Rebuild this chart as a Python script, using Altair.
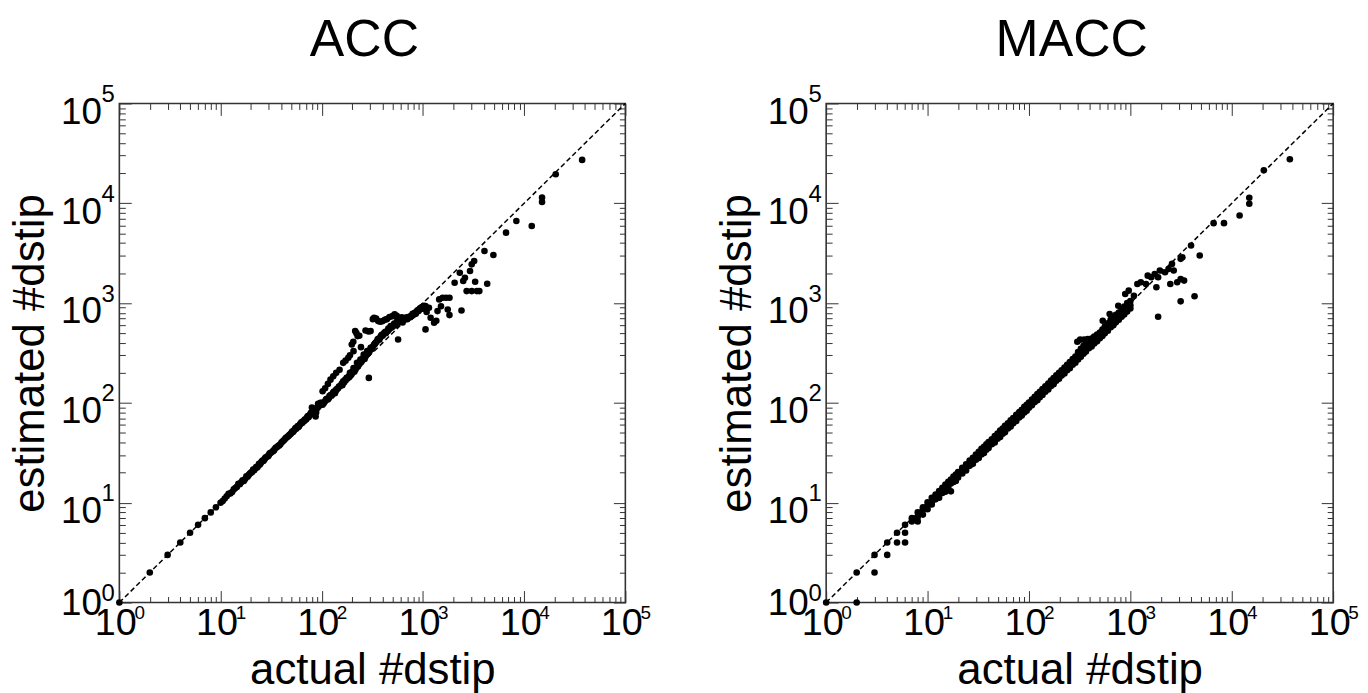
import altair as alt
import pandas as pd

FONT = "Liberation Sans"
decades = [1, 10, 100, 1000, 10000, 100000]
tick_base = "10"
tick_exponents = ["0", "1", "2", "3", "4", "5"]
minor_ticks = [m * d for d in [1, 10, 100, 1000, 10000] for m in range(2, 10)]
panel_titles = ["ACC", "MACC"]
x_title = "actual #dstip"
y_title = "estimated #dstip"

# ---------------- ACC (actual, estimated) ----------------
acc_low = [(1, 1), (2, 2), (3, 3), (4, 4), (5, 5), (6, 6), (7, 7), (8, 8), (9, 9), (10, 10)]
acc_mid = [(10.5, 10.4), (11, 11), (11.5, 11.6), (12, 12.3), (12.5, 12.4), (13, 12.8), (13.5, 13.6),
           (14, 14), (14.5, 14.4), (15, 15.5), (15.5, 15.3), (16, 16), (16.5, 16.8), (17, 16.5),
           (17.5, 17.3), (18, 18.4), (18.5, 18.2), (19, 19), (19.5, 19.6), (20, 20), (20.5, 20.3),
           (21, 21.5), (21.5, 21.2), (22, 22), (22.5, 22.8), (23, 22.5), (23.5, 23.3), (24, 24.5),
           (24.5, 24.2), (25, 25), (25.5, 25.8), (26, 26.5), (26.5, 26.2), (27, 27), (27.5, 27.8),
           (28, 28.5), (29, 29), (29.5, 29.2), (30, 30), (30.5, 31), (31, 31.5), (32, 32), (33, 33),
           (33.5, 33.2), (34, 34), (35, 35.5), (36, 36), (37, 37), (38, 37.5), (39, 38.5), (40, 40),
           (41, 41), (42, 42), (43, 43), (44, 44.5), (45, 45), (46, 46), (47, 46.5), (48, 48),
           (49, 48.5), (50, 50), (51, 51.5), (52, 51), (53, 52.5), (54, 54), (55, 56), (56, 55),
           (57, 57), (58, 58.5), (59, 57.5), (60, 59), (61, 61), (62, 62), (63, 64), (64, 63),
           (65, 65), (66, 65), (67, 66), (68, 68), (69, 68), (70, 68), (71, 70), (72, 72), (73, 74),
           (74, 72), (75, 74), (76, 75), (77, 77), (78, 79), (79, 80), (80, 78), (80, 90), (81, 80),
           (82, 82), (83, 83), (84, 82), (85, 84), (86, 86), (87, 73), (87, 86), (88, 80), (89, 88),
           (90, 89), (91, 90), (92, 93), (92, 98), (93, 92), (94, 95), (95, 94), (96, 97), (97, 100),
           (98, 96), (99, 98), (100, 100)]
acc_main = [(102, 96), (105, 100), (108, 104), (110, 108), (112, 110), (115, 108), (118, 112),
            (119, 117), (122, 120), (125, 118), (128, 122), (129, 126), (132, 130), (135, 125),
            (138, 132), (139, 136), (142, 138), (145, 140), (148, 146), (151, 147), (155, 150),
            (158, 156), (160, 150), (163, 165), (166, 160), (170, 170), (172, 168), (176, 178),
            (180, 176), (185, 185), (188, 182), (190, 200), (195, 190), (198, 196), (200, 205),
            (206, 224), (210, 205), (215, 215), (220, 225), (223, 252), (228, 232), (230, 240),
            (236, 245), (241, 272), (245, 255), (250, 265), (255, 280), (260, 305), (265, 275),
            (270, 290), (275, 300), (281, 330), (285, 310), (290, 320), (298, 335), (304, 356),
            (310, 345), (315, 360), (322, 370), (329, 385), (335, 390), (340, 400), (348, 410),
            (356, 432), (362, 440), (370, 430), (378, 450), (384, 467), (392, 480), (400, 470),
            (408, 490), (415, 504), (425, 515), (430, 500), (440, 520), (449, 524), (455, 555),
            (460, 540), (470, 560), (480, 590), (486, 566), (500, 580), (510, 600), (520, 625),
            (525, 611), (540, 600), (550, 640), (560, 660), (568, 635), (580, 650), (590, 670),
            (600, 690), (614, 660), (620, 700), (630, 640), (640, 680), (650, 700), (664, 686),
            (680, 700), (690, 720), (700, 690), (718, 713), (730, 730), (750, 720), (760, 740),
            (776, 741), (790, 780), (800, 760), (820, 790), (838, 800), (850, 780), (860, 820),
            (880, 840), (900, 850), (906, 831), (930, 880), (950, 870), (960, 900), (980, 898),
            (990, 920), (1000, 880), (1020, 940), (1060, 933), (1146, 898)]
acc_upper = [(102, 131), (108, 140), (115, 155), (122, 171), (130, 185), (139, 200), (150, 215),
             (163, 252), (172, 265), (183, 283), (190, 300), (198, 385), (205, 410), (206, 330),
             (214, 524), (220, 500), (226, 467), (235, 470), (244, 362), (271, 532), (290, 520),
             (304, 524), (320, 690), (329, 713), (345, 700), (361, 660), (380, 650), (400, 660),
             (420, 680), (440, 690), (467, 724), (500, 740), (525, 770), (550, 745), (560, 710),
             (590, 713), (620, 720), (660, 700)]
acc_high = [(292, 178), (568, 432), (1060, 545), (1087, 815), (1191, 713), (1288, 635), (1355, 665),
            (1393, 831), (1448, 1089), (1508, 930), (1565, 1132), (1692, 1132), (1758, 864),
            (1829, 1132), (1829, 758), (2056, 1600), (2312, 2014), (2404, 844), (2500, 1663),
            (2600, 1795), (2702, 1319), (2918, 2094), (3034, 2444), (3034, 1319), (3206, 2638),
            (3281, 1637), (3414, 1319), (3606, 1319), (4055, 3325), (4315, 1563), (4966, 3034),
            (6624, 5077), (8375, 6650), (11890, 5929), (15030, 11400), (15030, 10310),
            (20510, 19540), (37410, 27210)]

# ---------------- MACC (actual, estimated) ----------------
macc_low = [(1, 1), (2, 1), (2, 2), (3, 2), (3, 3), (4, 3), (4, 4), (5, 4), (5, 5), (6, 4), (6, 5),
            (6, 6), (7, 6.5), (7, 7), (8, 6.5), (8, 7.2), (8, 8), (9, 7.6), (9, 8.6), (9, 9)]
macc_band = [
    (10, [8.6, 9.3, 10.1]), (11, [9.6, 10.3, 11.2]), (12, [10.8, 11.6, 12.1]), (13, [11.2, 12.4, 13.1]),
    (14, [12.5, 13.3, 14.1]), (15, [12.9, 14.2, 15.2]), (16, [14.3, 15.1, 16.2]),
    (17, [13, 15.6, 16.4, 17.1]), (18, [16.1, 17.2, 18.3]), (19, [16.5, 18.1, 19.1]),
    (20, [17.9, 19, 20.3]), (22, [19.6, 21, 22.4]), (24, [21, 23, 24.2]), (26, [23.4, 24.8, 26.5]),
    (28, [24.5, 26.9, 28.2]), (30, [26.9, 28.4, 30.4]), (32, [28, 30.5, 32.3]),
    (34, [30.4, 32.5, 34.6]), (36, [31.5, 34.2, 36.3]), (38, [34, 36.1, 38.5]),
    (40, [35.4, 38.2, 40.6]), (43, [38.5, 40.8, 43.3]), (46, [40.2, 43.8, 46.6]),
    (49, [43.8, 46.5, 49.4]), (52, [45.5, 49.5, 52.8]), (55, [49.1, 52.3, 55.4]),
    (58, [50.8, 55.2, 58.9]), (62, [55.3, 59, 62.5]), (66, [57.9, 62.6, 66.9]),
    (70, [62.4, 66.5, 70.6]), (75, [65.8, 71.2, 76]), (80, [71.5, 75.8, 80.9]),
    (85, [74.6, 80.7, 85.5]), (90, [80.3, 85.2, 91.2]), (95, [83.5, 90.4, 95.7]),
    (100, [89.2, 94.8, 101]), (107, [94.5, 101.5, 108.2]), (114, [101.8, 108.2, 115.1]),
    (121, [106.3, 114.9, 122.4]), (128, [114.2, 121.3, 129.5]), (136, [119.8, 129.1, 137.6]),
    (145, [129.5, 137.3, 146.8]), (155, [136.2, 147.1, 156.4]), (165, [147.3, 156.2, 167.5]),
    (175, [154.1, 166.3, 177.2]), (186, [166.2, 176.4, 188.6]), (198, [174.5, 188.2, 200.3]),
    (210, [187.6, 199.1, 212.5]), (224, [197.2, 212.8, 226.4]), (238, [212.4, 225.9, 241.1]),
    (253, [222.8, 240.3, 256.7]), (270, [241.3, 256.2, 274.5]), (287, [252.6, 272.8, 291.4]),
    (300, [410]), (305, [272.1, 291.3, 322.6]), (320, [430]), (325, [289.4, 312.5, 348.2]),
    (345, [311.2, 334.8, 372.6]), (350, [432]), (365, [326.5, 358.1, 401.3]), (380, [435]),
    (390, [352.3, 381.6, 418.5]), (415, [368.2, 402.4, 441.7]), (420, [440]),
    (440, [392.6, 423.1, 462.3]), (460, [445]), (470, [413.5, 447.8, 483.9]), (490, [450]),
    (500, [445.2, 471.6, 507.4]), (530, [468.7, 503.3, 542.1]), (534, [666]),
    (560, [497.4, 528.6, 583.2]), (600, [528.1, 572.4, 628.7]), (625, [776]),
    (640, [571.9, 612.5, 683.4]), (680, [598.3, 651.7, 724.6]), (720, [641.5, 692.8, 762.3]),
    (760, [942]), (770, [679.2, 731.4, 803.5]), (820, [728.6, 782.3, 862.4]),
    (870, [768.4, 832.5, 921.7]), (890, [1233]), (930, [821.3, 893.6, 1003]), (963, [1333]),
    (1000, [882.5, 952.4, 1048]),
]
macc_high = [(1084, 1186), (1172, 1554), (1268, 1616), (1426, 1554), (1484, 1884), (1607, 1814),
             (1738, 1959), (1806, 1439), (1879, 1814), (1879, 730), (1954, 2117), (2199, 2037),
             (2380, 2198), (2476, 1554), (2574, 2470), (2677, 2117), (2897, 1616), (3133, 1745),
             (3133, 2774), (3133, 1041), (3259, 2880), (3388, 1680), (3968, 3773), (4295, 1169),
             (4833, 2994), (6622, 6324), (8380, 6324), (11950, 7550), (14890, 11370),
             (14890, 9890), (20720, 21380), (37400, 27600)]

acc_pairs = acc_low + acc_mid + acc_main + acc_upper + acc_high
macc_pairs = macc_low + [(x, y) for x, ys in macc_band for y in ys] + macc_high

base_expr = f"'{tick_base}'"
exp_expr = " : ".join(f"datum.value == {v} ? '{t}'" for v, t in zip(decades, tick_exponents)) + " : ''"

INK = "#333333"


def axis(orient, values, size, labels=None, lab_size=36, pad=0, loff=0, title=None, tpad=2,
         show_ticks=True):
    kw = dict(orient=orient, values=values, tickSize=size, offset=-size, domain=False, grid=False,
              ticks=True, tickColor=INK, tickWidth=1, tickOpacity=1 if show_ticks else 0,
              labels=labels is not None, title=title)
    if labels is not None:
        kw.update(labelExpr=labels, labelFont=FONT, labelFontSize=lab_size, labelColor="black",
                  labelPadding=pad, labelOverlap=False, labelBound=False, labelFlush=False,
                  labelOffset=loff)
    if title:
        kw.update(titleFont=FONT, titleFontWeight="normal", titleColor="black", titlePadding=tpad,
                  titleFontSize=44)
    return alt.Axis(**kw)


# the lowest y label sits at its tick, the others a little below it
y_digit_offset = {"condition": {"test": "datum.value <= 1", "value": 1}, "value": 9}


def panel(name, pairs, w):
    pts = pd.DataFrame(pairs, columns=["a", "e"])
    diag = pd.DataFrame({"a": [1, 100000], "e": [1, 100000]})
    sc = alt.Scale(type="log", domain=[1, 100000], nice=False)

    def enc(xa, ya):
        return dict(x=alt.X("a:Q", scale=sc, axis=xa), y=alt.Y("e:Q", scale=sc, axis=ya))

    line = alt.Chart(diag).mark_line(color="black", strokeDash=[5, 3], strokeWidth=1.5).encode(
        **enc(axis("bottom", decades, 12, base_expr, 38, 2, -4, x_title, 6),
              axis("left", decades, 12, base_expr, 37, 18, y_digit_offset, y_title, 8))
    )
    dots = alt.Chart(pts).mark_point(filled=True, color="black", size=44, opacity=1,
                                     shape="circle").encode(
        **enc(axis("bottom", minor_ticks, 6), axis("left", minor_ticks, 6))
    )
    sups = alt.Chart(diag).mark_point(opacity=0).encode(
        **enc(axis("bottom", decades, 0, exp_expr, 19, 1, 20, show_ticks=False),
              axis("left", decades, 0, exp_expr, 24, 5, -9, show_ticks=False))
    )
    mirror_major = alt.Chart(diag).mark_point(opacity=0).encode(
        **enc(axis("top", decades, 12), axis("right", decades, 12))
    )
    mirror_minor = alt.Chart(diag).mark_point(opacity=0).encode(
        **enc(axis("top", minor_ticks, 6), axis("right", minor_ticks, 6))
    )
    return alt.layer(line, dots, sups, mirror_major, mirror_minor).resolve_axis(
        x="independent", y="independent"
    ).properties(
        width=w, height=502,
        title=alt.TitleParams(name, font=FONT, fontSize=52, fontWeight="normal", color="black",
                              anchor="middle", frame="group", baseline="alphabetic", offset=-25,
                              dx=-8),
    )


chart = alt.hconcat(
    panel(panel_titles[0], acc_pairs, 509),
    panel(panel_titles[1], macc_pairs, 510),
    spacing=202, bounds="flush",
).properties(
    padding={"left": 0, "top": 3, "right": 0, "bottom": 0},
).configure_view(
    stroke=INK, strokeWidth=1.6
)

chart.save("out.html", embed_options={"renderer": "svg", "actions": False})
